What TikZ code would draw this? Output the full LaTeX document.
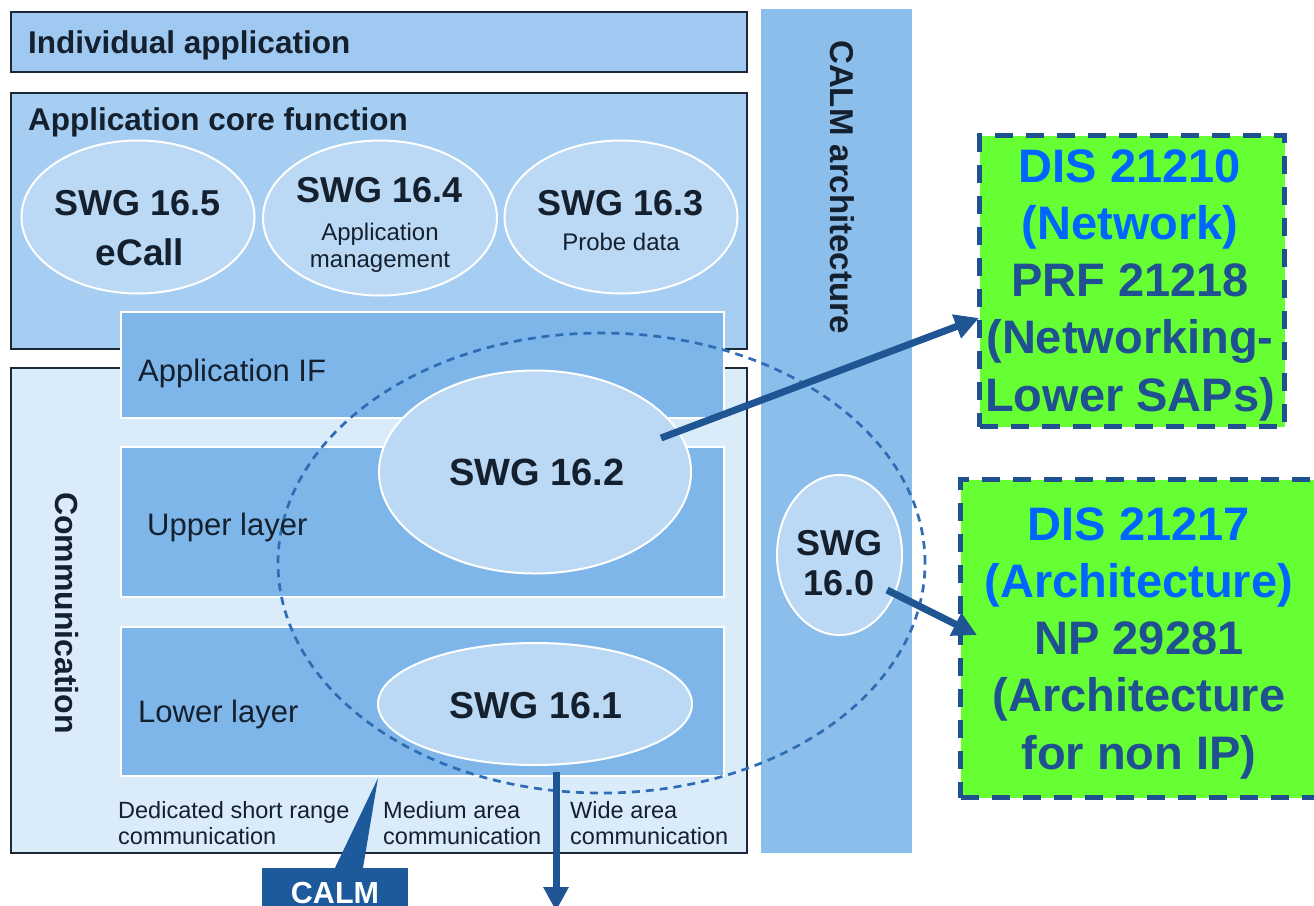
\documentclass[tikz,border=0pt]{standalone}
\usepackage{fontspec}
\setmainfont{Liberation Sans}
\usetikzlibrary{shapes.geometric,arrows.meta}
\definecolor{indfill}{HTML}{9FC9F0}
\definecolor{corefill}{HTML}{A5CEF2}
\definecolor{commfill}{HTML}{DAEBFA}
\definecolor{layerfill}{HTML}{7EB6EA}
\definecolor{barfill}{HTML}{8CBEEC}
\definecolor{ellfill}{HTML}{BBD9F5}
\definecolor{edgecol}{HTML}{1C2836}
\definecolor{txtcol}{HTML}{15202E}
\definecolor{arrowblue}{HTML}{1F5592}
\definecolor{dashblue}{HTML}{2E6DB5}
\definecolor{gfill}{HTML}{66FF33}
\definecolor{blueT}{HTML}{0066FF}
\definecolor{darkT}{HTML}{1F5090}
\definecolor{calmblue}{HTML}{1D5A9B}
\begin{document}
\begin{tikzpicture}[x=1pt,y=-1pt,
  boxbase/.style={rectangle, inner sep=0pt, anchor=north west},
  outerbox/.style={boxbase, draw=edgecol, line width=2pt},
  layerbox/.style={boxbase, draw=white, line width=1.5pt, fill=layerfill},
  swgell/.style={ellipse, draw=white, line width=2pt, fill=ellfill, inner sep=0pt},
  hdr/.style={anchor=base west, inner sep=0pt, text=txtcol, font=\bfseries\fontsize{31.5}{36}\selectfont},
  lyr/.style={anchor=base west, inner sep=0pt, text=txtcol, font=\fontsize{31}{36}\selectfont},
  swgt/.style={anchor=base, inner sep=0pt, text=txtcol, font=\bfseries\fontsize{36}{40}\selectfont},
  swgs/.style={anchor=base, inner sep=0pt, text=txtcol, font=\fontsize{24}{28}\selectfont},
  small/.style={anchor=base west, inner sep=0pt, text=txtcol, font=\fontsize{23.5}{26}\selectfont},
  conn/.style={draw=arrowblue, line width=7pt, -{Triangle[length=24pt,width=24pt]}},
  gbox/.style={boxbase, fill=gfill, draw=darkT, line width=5pt, dash pattern=on 18pt off 13pt},
  gtext/.style={anchor=base, inner sep=0pt, text=darkT, font=\bfseries\fontsize{47}{57.3}\selectfont}
]
\useasboundingbox (0,0) rectangle (1314,905);
\clip (0,0) rectangle (1314,905);

% CALM architecture bar
\node[boxbase, fill=barfill, minimum width=151, minimum height=844] (bar) at (761,9) {};
\node[rotate=-90, inner sep=0pt, text=txtcol, font=\bfseries\fontsize{33}{36}\selectfont] (bartext) at (842,187) {CALM architecture};

% outer boxes
\node[outerbox, fill=indfill, minimum width=736, minimum height=60] (indiv) at (10,11) {};
\node[outerbox, fill=corefill, minimum width=736, minimum height=256] (core) at (10,92) {};
\node[outerbox, fill=commfill, minimum width=736, minimum height=485] (comm) at (10,367) {};

% layer boxes
\node[layerbox, minimum width=603, minimum height=106] (appif) at (120,311) {};
\node[layerbox, minimum width=603, minimum height=150] (upper) at (120,446) {};
\node[layerbox, minimum width=603, minimum height=149] (lower) at (120,626) {};

% SWG ellipses
\node[swgell, minimum width=233, minimum height=153] (e165) at (138,217) {};
\node[swgell, minimum width=234, minimum height=155] (e164) at (380,218) {};
\node[swgell, minimum width=233, minimum height=153] (e163) at (621,217) {};
\node[swgell, minimum width=312, minimum height=203] (e162) at (535,472) {};
\node[swgell, minimum width=314, minimum height=122] (e161) at (535,704) {};
\node[swgell, minimum width=125, minimum height=160] (e160) at (839.5,555) {};

% dashed scope ellipse
\node[ellipse, draw=dashblue, line width=2.7pt, dash pattern=on 8pt off 6pt, minimum width=647, minimum height=460, inner sep=0pt] (scope) at (601.5,563) {};

% texts
\node[hdr] (tindiv) at (28,53) {Individual application};
\node[hdr] (tcore) at (28,130) {Application core function};
\node[rotate=-90, inner sep=0pt, text=txtcol, font=\bfseries\fontsize{32}{36}\selectfont] (tcomm) at (67,613) {Communication};
\node[lyr] (tappif) at (138,381) {Application IF};
\node[lyr] (tupper) at (147,535) {Upper layer};
\node[lyr] (tlower) at (138,722) {Lower layer};

\node[swgt] (t165a) at (138,215) {SWG 16.5};
\node[swgt, font=\bfseries\fontsize{37}{40}\selectfont] (t165b) at (140,265) {eCall};
\node[swgt] (t164a) at (380,202) {SWG 16.4};
\node[swgs] (t164b) at (380,240) {Application};
\node[swgs] (t164c) at (380,267) {management};
\node[swgt] (t163a) at (621,215) {SWG 16.3};
\node[swgs] (t163b) at (621,250) {Probe data};
\node[swgt, font=\bfseries\fontsize{38}{40}\selectfont] (t162) at (537,485) {SWG 16.2};
\node[swgt, font=\bfseries\fontsize{37.5}{40}\selectfont] (t161) at (536,718) {SWG 16.1};
\node[swgt] (t160a) at (839,555) {SWG};
\node[swgt] (t160b) at (839,595) {16.0};

\node[small] (tdsrc) at (118,818) {\begin{tabular}[t]{@{}l@{}}Dedicated short range\\communication\end{tabular}};
\node[small] (tmed) at (383,818) {\begin{tabular}[t]{@{}l@{}}Medium area\\communication\end{tabular}};
\node[small] (twide) at (570,818) {\begin{tabular}[t]{@{}l@{}}Wide area\\communication\end{tabular}};

% green boxes
\node[gbox, minimum width=305, minimum height=291] (g1) at (977,133) {};
\node[gtext] (g1t) at (1130,182) {\begin{tabular}[t]{@{}c@{}}\color{blueT}DIS 21210\\\color{blueT}(Network)\\PRF 21218\\(Networking-\\Lower SAPs)\end{tabular}};
\node[gbox, minimum width=372, minimum height=318] (g2) at (958,477) {};
\node[gtext] (g2t) at (1139,540) {\begin{tabular}[t]{@{}c@{}}\color{blueT}DIS 21217\\\color{blueT}(Architecture)\\NP 29281\\(Architecture\\for non IP)\end{tabular}};

% connectors
\coordinate (a1s) at (661,438);
\coordinate (a1e) at (979,318);
\coordinate (a2s) at (887,590);
\coordinate (a2e) at (977,635);
\coordinate (a3s) at (556,772);
\coordinate (a3e) at (556,911);
\draw[conn] (a1s) -- (a1e);
\draw[conn] (a2s) -- (a2e);
\draw[conn] (a3s) -- (a3e);

% CALM callout
\node[rectangle, inner sep=0pt, fill=calmblue, minimum width=146, minimum height=50, text=white, font=\bfseries\fontsize{30.5}{34}\selectfont] (calm) at (335,893) {CALM};
\coordinate (wtip) at (378,778);
\fill[calmblue] (calm.north) -- (wtip) -- ([xshift=28pt]calm.north) -- cycle;
\end{tikzpicture}
\end{document}
